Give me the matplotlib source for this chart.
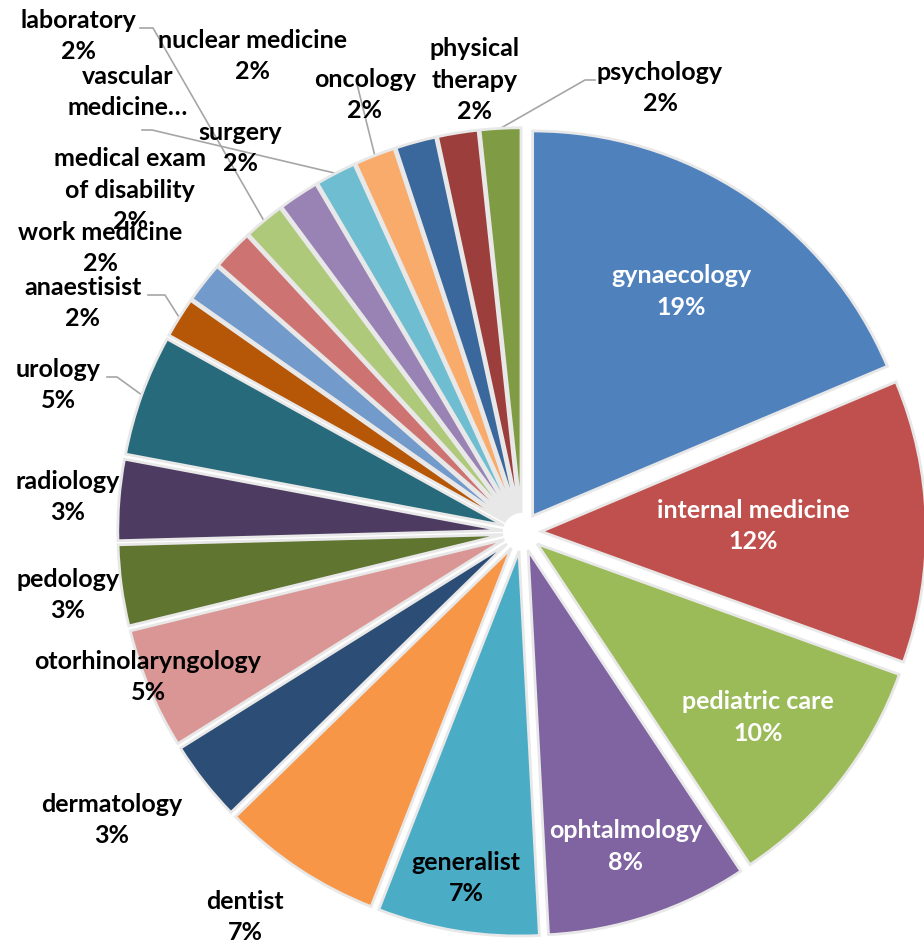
import numpy as np
import matplotlib.pyplot as plt

plt.rcParams['font.family'] = ['Lato', 'DejaVu Sans']

# number of answers per specialty, clockwise from 12 o'clock
specialties = ['gynaecology', 'internal medicine', 'pediatric care', 'ophtalmology',
               'generalist', 'dentist', 'dermatology', 'otorhinolaryngology',
               'pedology', 'radiology', 'urology', 'anaestisist', 'work medicine',
               'medical exam of disability', 'laboratory', 'surgery',
               'vascular medicine', 'oncology', 'nuclear medicine',
               'physical therapy', 'psychology']
counts = [11, 7, 6, 5, 4, 4, 2, 3, 2, 2, 3, 1, 1, 1, 1, 1, 1, 1, 1, 1, 1]

colors = ['#4f81bd', '#c0504d', '#9bbb59', '#8064a2', '#4bacc6', '#f79646',
          '#2c4d75', '#d99694', '#5f7530', '#4d3b62', '#276a7c', '#b65708',
          '#729aca', '#cd7371', '#afc97a', '#9983b5', '#6fbdd1', '#f9ab6b',
          '#3a679c', '#9c3f3c', '#7f9c44']

# how the label text is broken into lines
display = {'medical exam of disability': 'medical exam\nof disability',
           'physical therapy': 'physical\ntherapy',
           'vascular medicine': 'vascular\nmedicine…'}

total = sum(counts)
fig = plt.figure(figsize=(9.24, 9.46), dpi=100)
ax = fig.add_axes([0, 0, 1, 1])

wedges, _ = ax.pie(counts, colors=colors, startangle=90, counterclock=False,
                   explode=[0.05] * len(counts), radius=1,
                   wedgeprops=dict(edgecolor='#e8e8e8', linewidth=2))

# pie centre sits at pixel (522, 532), radius 385 px
CX, CY, R = 522, 532, 385


def px(x, y):
    return (x - CX) / R, (CY - y) / R


# labels drawn inside their slice: radius fraction, text colour
inside = {'gynaecology': (0.70, 'white'), 'internal medicine': (0.55, 'white'),
          'pediatric care': (0.73, 'white'), 'ophtalmology': (0.81, 'white'),
          'generalist': (0.86, 'black')}

# labels placed outside the pie (pixel centre of text block)
outside = {'dentist': (245, 917), 'dermatology': (112, 820),
           'otorhinolaryngology': (148, 677), 'pedology': (68, 595),
           'radiology': (68, 497), 'urology': (58, 385),
           'anaestisist': (83, 303), 'work medicine': (100, 248),
           'medical exam of disability': (130, 190), 'laboratory': (78, 36),
           'surgery': (240, 148), 'vascular medicine': (128, 92),
           'nuclear medicine': (253, 56), 'oncology': (365, 95),
           'physical therapy': (475, 80), 'psychology': (660, 88)}

# leader lines: start near the text, optional elbow
leaders = {'urology': [(107, 377), (117, 377)],
           'anaestisist': [(148, 295), (165, 295)],
           'laboratory': [(140, 28), (153, 28)],
           'vascular medicine': [(142, 130), (152, 130)],
           'oncology': [(357, 84)],
           'psychology': [(595, 80), (585, 80)]}

fs = 18
for w, name, c in zip(wedges, specialties, counts):
    mid = np.deg2rad((w.theta1 + w.theta2) / 2)
    cx, cy = w.center
    pct = f"{round(100 * c / total)}%"
    text = display.get(name, name)
    if name != 'vascular medicine':
        text = text + '\n' + pct
    if name in inside:
        r, col = inside[name]
        ax.text(cx + r * np.cos(mid), cy + r * np.sin(mid), text, ha='center',
                va='center', color=col, fontsize=fs, fontweight='bold',
                linespacing=1.45)
    else:
        x, y = px(*outside[name])
        ax.text(x, y, text, ha='center', va='center', color='black',
                fontsize=fs, fontweight='bold', linespacing=1.45)
    if name in leaders:
        pts = [px(*p) for p in leaders[name]]
        pts.append((cx + np.cos(mid), cy + np.sin(mid)))
        xs, ys = zip(*pts)
        ax.plot(xs, ys, color='#a6a6a6', lw=1.2, zorder=0.5)

ax.set_xlim(-CX / R, (924 - CX) / R)
ax.set_ylim(-(946 - CY) / R, CY / R)
ax.set_aspect('equal')
ax.axis('off')

fig.savefig('out.png', dpi=100)
